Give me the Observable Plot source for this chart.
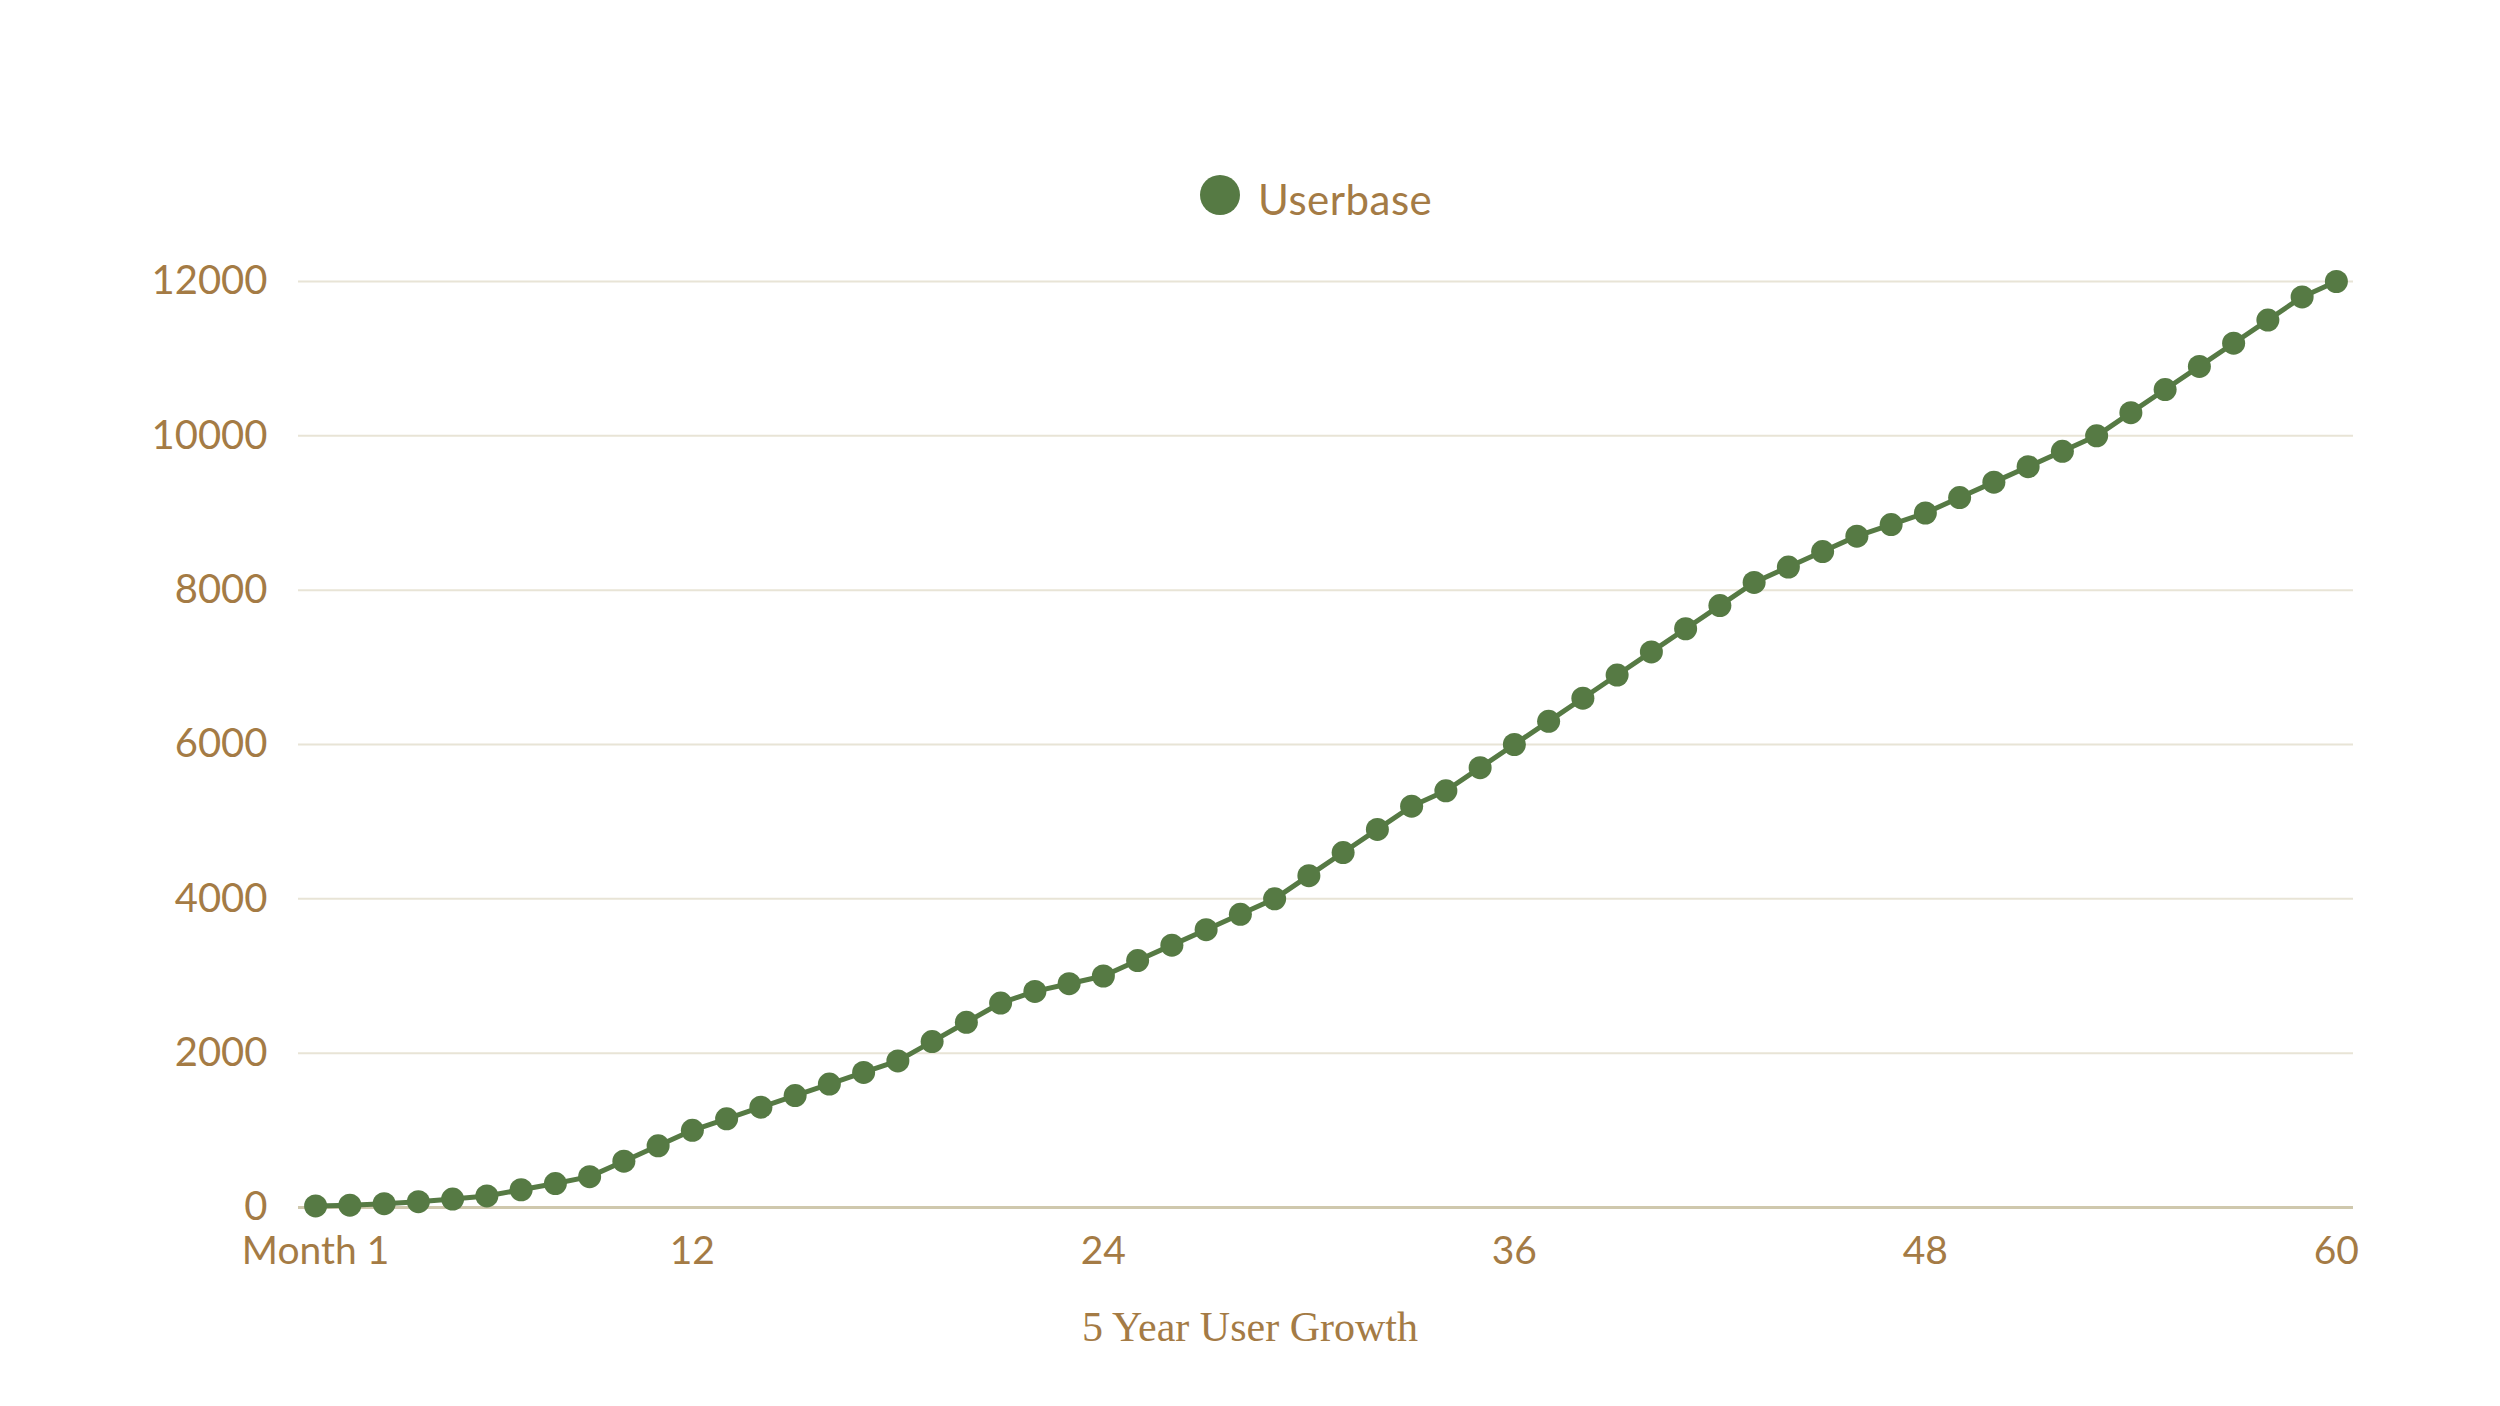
<!DOCTYPE html>
<html>
<head>
<meta charset="utf-8">
<script src="https://cdn.jsdelivr.net/npm/d3@7"></script>
<script src="https://cdn.jsdelivr.net/npm/@observablehq/plot@0.6"></script>
<style>
  html, body { margin: 0; padding: 0; background: #ffffff; }
  body { width: 2500px; height: 1406px; overflow: hidden; font-family: Lato, sans-serif; }
  #legend { position: relative; height: 230px; }
  #legend .sw { position: absolute; left: 1200px; top: 175px; width: 40px; height: 40px; border-radius: 50%; background: #567a44; }
  #legend .lb { position: absolute; left: 1258px; top: 171px; font-size: 42px; line-height: 56px; color: #a47b45; font-family: Lato, sans-serif; letter-spacing: 0.5px; }
  #caption { height: 116px; text-align: center; font-family: "Liberation Serif", "DejaVu Serif", serif; font-size: 42px; color: #a47b45; line-height: 1; padding-top: 16px; box-sizing: border-box; }
</style>
</head>
<body>
<div id="legend"><div class="sw"></div><div class="lb">Userbase</div></div>
<div id="chart"></div>
<div id="caption">5 Year User Growth</div>
<script>
const seriesName = "Userbase";
const months = d3.range(1, 61);
const userbase = [
  20, 30, 50, 75, 110, 150, 230, 310, 400, 600,
  800, 1000, 1150, 1300, 1450, 1600, 1750, 1900, 2150, 2400,
  2650, 2800, 2900, 3000, 3200, 3400, 3600, 3800, 4000, 4300,
  4600, 4900, 5200, 5400, 5700, 6000, 6300, 6600, 6900, 7200,
  7500, 7800, 8100, 8300, 8500, 8700, 8850, 9000, 9200, 9400,
  9600, 9800, 10000, 10300, 10600, 10900, 11200, 11500, 11800, 12000
];
const xTicks = [1, 12, 24, 36, 48, 60];
const xTickLabels = ["Month 1", "12", "24", "36", "48", "60"];
const yTicks = [0, 2000, 4000, 6000, 8000, 10000, 12000];

const data = months.map((m, i) => ({month: m, value: userbase[i]}));
const green = "#567a44";
const tan = "#a47b45";

const chart = Plot.plot({
  width: 2500,
  height: 1060,
  marginTop: 51,
  marginBottom: 83,
  marginLeft: 298,
  marginRight: 147,
  style: {fontFamily: "Lato, sans-serif", background: "transparent"},
  x: {domain: [0.5, 60.5]},
  y: {domain: [0, 12000]},
  marks: [
    Plot.gridY(yTicks.filter(d => d > 0), {stroke: "#e8e4d6", strokeOpacity: 1, strokeWidth: 2}),
    Plot.ruleY([0], {stroke: "#cfc8ad", strokeWidth: 3}),
    Plot.axisY(yTicks, {tickSize: 0, tickPadding: 31, fontSize: 40, fill: tan, label: null, tickFormat: d => String(d)}),
    Plot.axisX(xTicks, {tickSize: 0, tickPadding: 29, fontSize: 39, fill: tan, label: null,
      tickFormat: d => xTickLabels[xTicks.indexOf(d)]}),
    Plot.line(data, {x: "month", y: "value", stroke: green, strokeWidth: 5}),
    Plot.dot(data, {x: "month", y: "value", r: 11.5, fill: green, stroke: "none"})
  ]
});
document.getElementById("chart").appendChild(chart);
</script>
</body>
</html>
